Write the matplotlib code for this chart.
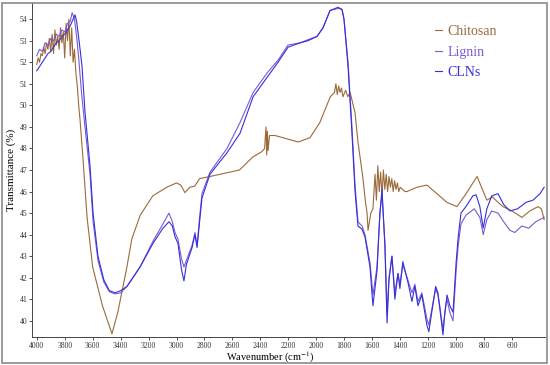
import matplotlib
matplotlib.use("Agg")
import matplotlib.pyplot as plt
from matplotlib.patches import Rectangle

plt.rcParams["font.family"] = "serif"
plt.rcParams["font.serif"] = ["Liberation Serif", "DejaVu Serif"]
plt.rcParams["mathtext.fontset"] = "stix"

# FTIR spectra (wavenumber cm^-1, transmittance %)
chitosan_wn = [4000, 3990, 3980, 3970, 3960, 3950, 3940, 3930, 3920, 3910, 3900, 3890,
               3880, 3870, 3860, 3850, 3840, 3830, 3820, 3810, 3800, 3790, 3780, 3770,
               3760, 3750, 3740, 3730, 3720, 3710, 3700, 3690, 3670, 3640, 3600, 3530,
               3462, 3420, 3355, 3320, 3260, 3170, 3070, 3000, 2970, 2940, 2905, 2870,
               2835, 2760, 2550, 2455, 2390, 2370, 2360, 2355, 2350, 2345, 2335, 2295,
               2240, 2130, 2045, 1975, 1900, 1870, 1860, 1850, 1840, 1830, 1820, 1810,
               1790, 1775, 1758, 1723, 1702, 1666, 1650, 1637, 1630, 1610, 1595, 1580,
               1570, 1560, 1550, 1540, 1530, 1520, 1510, 1500, 1490, 1480, 1470, 1460,
               1450, 1440, 1430, 1420, 1410, 1400, 1366, 1352, 1280, 1209, 1137, 1066,
               994, 923, 880, 850, 780, 740, 700, 665, 601, 529, 472, 414, 390, 370]
chitosan_t = [51.9, 52.2, 52.0, 52.4, 52.3, 52.7, 52.4, 52.9, 52.6, 53.1, 52.5, 53.3,
              52.4, 53.5, 52.8, 53.2, 52.6, 53.6, 52.9, 53.4, 52.2, 53.8, 53.0, 54.0,
              52.3, 53.6, 52.0, 52.6, 51.5, 50.9, 50.0, 49.3, 47.6, 44.8, 42.5, 40.7,
              39.4, 40.4, 42.5, 43.8, 44.9, 45.8, 46.2, 46.4, 46.3, 45.95, 46.2, 46.25,
              46.6, 46.7, 47.0, 47.6, 47.85, 48.0, 49.0, 47.7, 48.8, 47.9, 48.6, 48.6,
              48.5, 48.3, 48.5, 49.2, 50.4, 50.6, 51.0, 50.5, 50.9, 50.6, 50.8, 50.4,
              50.7, 50.4, 50.6, 49.65, 48.3, 46.6, 45.6, 45.0, 44.2, 45.0, 45.2, 46.8,
              45.6, 47.2, 46.0, 46.9, 45.8, 47.0, 46.1, 46.8, 46.0, 46.7, 46.2, 46.6,
              46.0, 46.5, 46.1, 46.4, 46.0, 46.2, 46.0, 46.0, 46.2, 46.3, 45.9, 45.5,
              45.3, 45.95, 46.4, 46.7, 45.6, 45.75, 45.5, 45.3, 45.1, 44.8, 45.1, 45.3,
              45.2, 44.7]

lignin_wn = [4000, 3980, 3960, 3940, 3920, 3900, 3880, 3860, 3840, 3820, 3800, 3780,
             3760, 3747, 3730, 3715, 3700, 3680, 3655, 3619, 3597, 3562, 3520, 3480,
             3440, 3400, 3354, 3261, 3168, 3097, 3054, 3030, 3011, 2990, 2965, 2947,
             2930, 2889, 2868, 2853, 2835, 2818, 2761, 2639, 2546, 2452, 2352, 2274,
             2202, 2117, 2059, 1995, 1952, 1902, 1845, 1816, 1802, 1773, 1745, 1723,
             1702, 1673, 1652, 1616, 1595, 1566, 1545, 1530, 1509, 1494, 1480, 1459,
             1438, 1416, 1402, 1381, 1345, 1316, 1295, 1273, 1245, 1209, 1195, 1146,
             1130, 1115, 1094, 1080, 1065, 1045, 1022, 1000, 985, 965, 930, 870, 830,
             806, 780, 745, 700, 660, 615, 580, 530, 480, 430, 370]
lignin_t = [52.3, 52.6, 52.5, 52.9, 52.8, 53.1, 53.0, 53.3, 53.2, 53.5, 53.4, 53.8,
            53.9, 54.3, 54.0, 53.2, 52.2, 50.6, 49.0, 46.8, 44.6, 42.8, 41.8, 41.35,
            41.25, 41.3, 41.6, 42.5, 43.7, 44.5, 45.0, 44.6, 44.1, 43.8, 42.9, 42.5,
            42.8, 43.5, 44.1, 43.5, 44.8, 45.9, 46.9, 48.0, 49.2, 50.6, 51.5, 52.1,
            52.8, 52.9, 53.05, 53.2, 53.6, 54.4, 54.5, 54.45, 54.0, 52.0, 49.0, 46.3,
            44.6, 44.4, 44.0, 42.7, 41.2, 42.5, 45.0, 45.9, 43.6, 40.4, 42.0, 43.0,
            41.3, 42.2, 41.7, 42.6, 41.9, 41.3, 41.7, 40.9, 41.3, 40.1, 39.8, 41.5,
            41.2, 40.6, 39.6, 40.4, 41.0, 40.4, 40.0, 42.3, 43.5, 44.5, 44.9, 45.2,
            44.8, 44.0, 44.7, 45.1, 45.0, 44.6, 44.2, 44.1, 44.4, 44.3, 44.6, 44.8]

clns_wn = [4000, 3980, 3960, 3940, 3920, 3900, 3880, 3860, 3840, 3820, 3800, 3780,
           3760, 3740, 3726, 3715, 3705, 3690, 3676, 3655, 3619, 3597, 3562, 3520,
           3480, 3440, 3400, 3354, 3261, 3168, 3097, 3054, 3030, 3011, 2990, 2965,
           2947, 2930, 2889, 2868, 2853, 2835, 2818, 2761, 2639, 2546, 2452, 2352,
           2274, 2202, 2117, 2059, 1995, 1952, 1902, 1845, 1816, 1802, 1773, 1745,
           1723, 1702, 1673, 1652, 1616, 1595, 1566, 1545, 1530, 1509, 1494, 1480,
           1459, 1438, 1416, 1402, 1381, 1345, 1316, 1295, 1273, 1245, 1209, 1195,
           1146, 1130, 1115, 1094, 1080, 1065, 1045, 1022, 1000, 985, 965, 930, 880,
           857, 830, 806, 780, 745, 700, 660, 615, 560, 500, 450, 400, 370]
clns_t = [51.6, 51.8, 52.0, 52.2, 52.4, 52.5, 52.7, 52.9, 53.0, 53.2, 53.3, 53.5,
          53.7, 54.0, 54.2, 53.9, 53.4, 52.6, 51.8, 49.7, 47.2, 45.0, 43.0, 41.9,
          41.4, 41.3, 41.4, 41.6, 42.5, 43.6, 44.3, 44.6, 44.4, 43.9, 43.6, 42.4,
          41.85, 42.6, 43.4, 44.0, 43.4, 44.6, 45.7, 46.8, 47.8, 48.7, 50.4, 51.3,
          52.0, 52.7, 52.9, 53.0, 53.2, 53.6, 54.4, 54.55, 54.45, 54.0, 51.8, 48.7,
          46.0, 44.4, 44.25, 43.9, 42.5, 40.7, 42.3, 45.0, 46.1, 43.4, 39.9, 41.9,
          43.0, 41.0, 42.2, 41.5, 42.75, 41.8, 40.9, 41.6, 40.7, 41.2, 39.8, 39.5,
          41.6, 41.3, 40.5, 39.35, 40.4, 41.2, 40.7, 40.4, 42.7, 43.9, 45.0, 45.3,
          45.8, 45.85, 45.3, 44.3, 45.2, 45.8, 45.9, 45.4, 45.1, 45.2, 45.5, 45.6,
          45.9, 46.2]

x_ticks = list(range(4000, 599, -200))
y_ticks = list(range(40, 55))

colors = {"Chitosan": "#9c6a3a", "Lignin": "#7a5ad2", "CLNs": "#3530d8"}

fig = plt.figure(figsize=(5.5, 3.65), dpi=100)
ax = fig.add_axes([32 / 550, 28 / 365, 513 / 550, 334 / 365])

ax.plot(chitosan_wn, chitosan_t, color=colors["Chitosan"], lw=0.8, label="Chitosan")
ax.plot(lignin_wn, lignin_t, color=colors["Lignin"], lw=0.8, label="Lignin")
ax.plot(clns_wn, clns_t, color=colors["CLNs"], lw=0.8, label="CLNs")

ax.set_xlim(4034, 364)
ax.set_ylim(39.25, 54.75)
ax.set_xticks(x_ticks)
ax.set_yticks(y_ticks)
ax.tick_params(labelsize=5.5, length=2.5, width=0.6, pad=1, colors="#333333")
for side in ("top", "right"):
    ax.spines[side].set_visible(False)
for side in ("left", "bottom"):
    ax.spines[side].set_linewidth(0.7)
    ax.spines[side].set_color("#444444")

ax.set_xlabel("Wavenumber (cm$^{-1}$)", fontsize=7.5)
ax.xaxis.set_label_coords(0.464, -0.040)
ax.set_ylabel("Transmittance (%)", fontsize=8)
ax.yaxis.set_label_coords(-0.031, 0.5)

leg = ax.legend(loc="upper left", bbox_to_anchor=(428 / 550, 1 - 18 / 365),
                bbox_transform=fig.transFigure, frameon=False, fontsize=10,
                handlelength=0.5, handletextpad=0.4, labelspacing=0.55,
                labelcolor="linecolor", borderpad=0)

fig.patches.append(Rectangle((2 / 550, 2 / 365), 545 / 550, 360 / 365,
                             transform=fig.transFigure, fill=False,
                             edgecolor="#8a8a8a", lw=1.2))

fig.savefig("out.png", dpi=100)
